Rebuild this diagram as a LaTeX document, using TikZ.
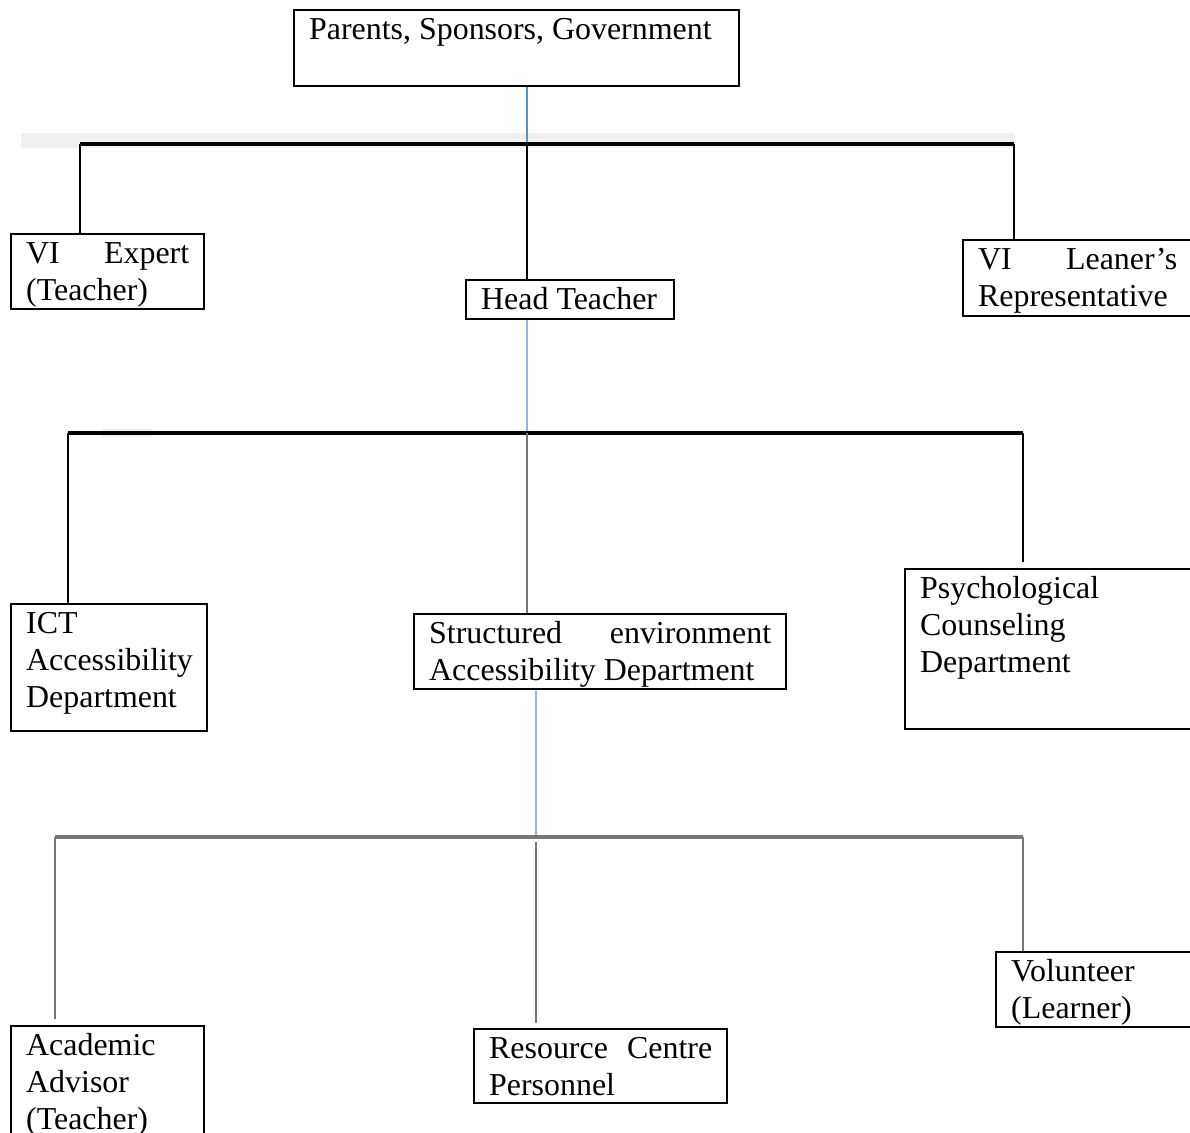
\documentclass[tikz,border=0pt]{standalone}
\usepackage{fontspec}
\setmainfont{Liberation Serif}
\usetikzlibrary{calc}
\newdimen\px \px=0.376pt
\newcommand{\unittext}[3]{\parbox[t][#1\px][t]{#2\px}{\strut #3}}
\definecolor{linkblue}{RGB}{91,143,213}
\definecolor{paleblue}{RGB}{150,182,228}
\definecolor{linkgray}{RGB}{118,118,118}
\definecolor{barshade}{RGB}{240,240,240}
\tikzset{
	unit/.style={draw=black, line width=0.9pt, anchor=north west, inner xsep=15*\px, inner ysep=3.5*\px, font=\fontsize{12}{13.9}\selectfont},
	bus/.style={line width=1.2pt, black},
	drop/.style={line width=0.8pt, black},
	graybus/.style={line width=1.2pt, linkgray},
	graydrop/.style={line width=0.8pt, linkgray}
}

\begin{document}
\begin{tikzpicture}[x=0.376pt, y=-0.376pt]
			%%%%% START %%%%%
			\clip (0, 0) rectangle (1190, 1133);
			
			\fill[barshade] (21, 133) rectangle (1014, 148);
			\fill[barshade] (102, 429) rectangle (152, 437);
			
			\node[unit] (parents) at (293, 9) {\unittext{69}{415}{Parents, Sponsors, Government}};
			
			\node[unit] (expert) at (10, 233) {\unittext{68}{163}{VI\hfill Expert\\(Teacher)}};
			\node[unit] (head) at (465, 279) {\unittext{32}{178}{Head Teacher}};
			\node[unit] (learnerrep) at (962, 239) {\unittext{69}{199}{VI\hfill Leaner's\\Representative}};
			
			\node[unit] (ict) at (10, 603) {\unittext{120}{166}{ICT\\Accessibility\\Department}};
			\node[unit] (structured) at (413, 613) {\unittext{68}{342}{Structured\hfill environment\\Accessibility Department}};
			\node[unit] (psych) at (904, 568) {\unittext{153}{257}{Psychological\\Counseling\\Department}};
			
			\node[unit] (advisor) at (10, 1025) {\unittext{133}{163}{Academic\\Advisor\\(Teacher)}};
			\node[unit] (resource) at (473, 1028) {\unittext{67}{223}{Resource\hfill Centre\\Personnel}};
			\node[unit] (volunteer) at (995, 951) {\unittext{68}{166}{Volunteer\\(Learner)}};
			
			\coordinate (tier1) at (527, 144);
			\coordinate (t1left) at (80, 144);
			\coordinate (t1right) at (1014, 144);
			\coordinate (tier2) at (527, 433);
			\coordinate (t2left) at (68, 433);
			\coordinate (t2right) at (1023, 433);
			\coordinate (tier3) at (536, 837);
			\coordinate (t3left) at (55, 837);
			\coordinate (t3right) at (1023, 837);
			
			% first tier
			\draw[line width=0.8pt, linkblue] (parents.south -| tier1) -- (tier1);
			\draw[bus] (t1left) -- (t1right);
			\draw[drop] (t1left) -- (t1left |- expert.north);
			\draw[drop] (tier1) -- (tier1 |- head.north);
			\draw[drop] (t1right) -- (t1right |- learnerrep.north);
			
			% second tier
			\draw[line width=0.8pt, paleblue] (head.south -| tier2) -- (tier2);
			\draw[bus] (t2left) -- (t2right);
			\draw[drop] (t2left) -- (t2left |- ict.north);
			\draw[graydrop] (tier2) -- (tier2 |- structured.north);
			\draw[drop, shorten >=2.2pt] (t2right) -- (t2right |- psych.north);
			
			% third tier
			\draw[line width=0.8pt, paleblue] (structured.south -| tier3) -- (tier3);
			\draw[graybus] (t3left) -- (t3right);
			\draw[graydrop, shorten >=2.2pt] (t3left) -- (t3left |- advisor.north);
			\draw[graydrop, shorten <=1.9pt, shorten >=1.9pt] (tier3) -- (tier3 |- resource.north);
			\draw[graydrop] (t3right) -- (t3right |- volunteer.north);
			
			%%%%% END %%%%%
\end{tikzpicture}
\end{document}
